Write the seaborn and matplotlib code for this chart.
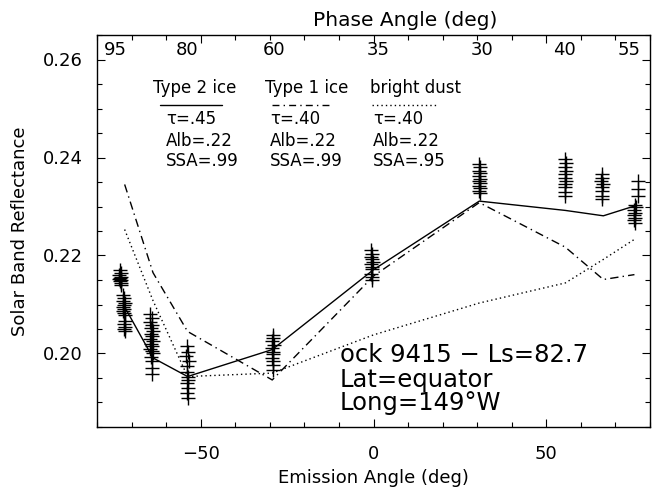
import matplotlib
matplotlib.use("Agg")
import matplotlib.pyplot as plt
import matplotlib.transforms as mtransforms
from matplotlib.ticker import MultipleLocator
import seaborn as sns
import pandas as pd

# ---------------- data ----------------
# model curves (emission angle, reflectance)
model_x = [-72.0, -63.8, -53.8, -29.3, 0.0, 30.6, 55.5, 66.5, 75.5]
type2_ice = [0.2095, 0.1991, 0.1953, 0.2008, 0.2171, 0.2311, 0.2292, 0.2281, 0.2301]
type1_ice = [0.2345, 0.2165, 0.2045, 0.1946, 0.2158, 0.2308, 0.2217, 0.2151, 0.2161]
bright_dust = [0.2253, 0.2108, 0.1953, 0.1960, 0.2038, 0.2103, 0.2144, 0.2192, 0.2233]

# observations
obs_x = ([-73.4, -73.2, -73.6, -73.0, -73.3, -73.5, -73.1, -73.4, -73.2, -73.0]
         + [-72.4, -72.2, -72.6, -72.0, -72.3, -72.5, -72.1, -72.4, -72.2, -71.9, -72.0, -72.3, -71.8, -72.1, -72.0]
         + [-64.6, -64.2, -64.8, -64.0, -64.4, -63.8, -64.5, -64.1, -64.7, -63.9, -64.3, -64.0, -64.6, -64.2, -63.8, -64.4, -64.1, -64.0, -64.2]
         + [-54.0, -53.7, -54.2, -53.5, -53.9, -54.1, -53.6, -53.8, -54.0, -53.7, -53.9, -53.8]
         + [-29.2, -29.0, -29.4, -28.9, -29.3, -29.1, -29.0, -29.3, -29.2, -29.1, -29.0]
         + [-0.6, -0.3, -0.8, -0.4, -0.2, -0.7, -0.5, -0.3, -0.6, -0.4, -0.5]
         + [30.5, 30.8, 30.6, 30.9, 30.4, 30.7, 30.6, 30.8, 30.5, 30.7, 30.6, 30.8]
         + [55.4, 55.6, 55.3, 55.7, 55.5, 55.4, 55.6, 55.5, 55.3, 55.5, 55.5]
         + [66.0, 66.2, 65.9, 66.3, 66.1, 66.0, 66.2, 66.1]
         + [76.6, 76.5, 76.4, 75.6, 75.9, 75.4, 75.8, 75.5, 75.7, 75.3, 75.6])
obs_y = ([0.2170, 0.2165, 0.2160, 0.2157, 0.2155, 0.2152, 0.2150, 0.2147, 0.2143, 0.2140]
         + [0.2120, 0.2113, 0.2108, 0.2103, 0.2098, 0.2094, 0.2090, 0.2086, 0.2082, 0.2078, 0.2066, 0.2060, 0.2055, 0.2050, 0.2046]
         + [0.2080, 0.2072, 0.2065, 0.2058, 0.2052, 0.2046, 0.2040, 0.2035, 0.2030, 0.2025, 0.2020, 0.2015, 0.2010, 0.2005, 0.2000, 0.1993, 0.1985, 0.1970, 0.1958]
         + [0.2015, 0.2004, 0.1994, 0.1984, 0.1974, 0.1963, 0.1953, 0.1946, 0.1940, 0.1929, 0.1919, 0.1909]
         + [0.2038, 0.2032, 0.2025, 0.2018, 0.2011, 0.2004, 0.1998, 0.1991, 0.1984, 0.1977, 0.1967]
         + [0.2212, 0.2204, 0.2197, 0.2192, 0.2187, 0.2182, 0.2177, 0.2172, 0.2163, 0.2157, 0.2151]
         + [0.2386, 0.2380, 0.2373, 0.2368, 0.2362, 0.2357, 0.2352, 0.2347, 0.2342, 0.2337, 0.2332, 0.2327]
         + [0.2397, 0.2388, 0.2380, 0.2373, 0.2366, 0.2359, 0.2352, 0.2345, 0.2339, 0.2330, 0.2322]
         + [0.2366, 0.2359, 0.2352, 0.2345, 0.2339, 0.2332, 0.2322, 0.2315]
         + [0.2352, 0.2335, 0.2322, 0.2304, 0.2298, 0.2293, 0.2287, 0.2282, 0.2277, 0.2272, 0.2266])

phase_pos = [-74.8, -54.0, -28.7, 1.4, 31.5, 55.1, 73.9]
phase_labels = ["95", "80", "60", "35", "30", "40", "55"]

legend_names = ["Type 2 ice", "Type 1 ice", "bright dust"]
legend_tau = ["\u03c4=.45", "\u03c4=.40", "\u03c4=.40"]
legend_alb = ["Alb=.22", "Alb=.22", "Alb=.22"]
legend_ssa = ["SSA=.99", "SSA=.99", "SSA=.95"]

# ---------------- plot ----------------
sns.set_style("ticks")
plt.rcParams["font.family"] = ["DejaVu Sans"]
plt.rcParams["text.color"] = "black"
plt.rcParams["axes.labelcolor"] = "black"
plt.rcParams["xtick.color"] = "black"
plt.rcParams["ytick.color"] = "black"

fig = plt.figure(figsize=(6.55, 4.87), dpi=100)
ax = fig.add_axes([97 / 655, 60 / 487, 553 / 655, 392 / 487])

df_model = pd.DataFrame({"x": model_x, "t2": type2_ice, "t1": type1_ice, "bd": bright_dust})
df_obs = pd.DataFrame({"x": obs_x, "y": obs_y})

styles = {"t2": "-", "t1": (0, (6, 3, 1, 3)), "bd": (0, (1, 2.2))}
for key in ["t2", "t1", "bd"]:
    sns.lineplot(data=df_model, x="x", y=key, ax=ax, color="black", lw=1.0,
                 linestyle=styles[key], sort=False, estimator=None)

sns.scatterplot(data=df_obs, x="x", y="y", ax=ax, marker="+", s=115,
                color="black", linewidth=1.0, zorder=3)

ax.set_xlim(-80, 80)
ax.set_ylim(0.185, 0.265)
ax.xaxis.set_major_locator(MultipleLocator(50))
ax.xaxis.set_minor_locator(MultipleLocator(10))
ax.yaxis.set_major_locator(MultipleLocator(0.02))
ax.yaxis.set_minor_locator(MultipleLocator(0.005))
ax.xaxis.set_major_formatter(plt.FuncFormatter(lambda v, p: f"{v:.0f}".replace("-", "\u2212")))
ax.yaxis.set_major_formatter(plt.FuncFormatter(lambda v, p: f"{v:.2f}"))
ax.tick_params(axis="both", which="both", direction="in", top=True, right=True,
               color="black", width=0.8)
ax.tick_params(axis="both", which="major", length=6, labelsize=13, labelcolor="black")
ax.tick_params(axis="both", which="minor", length=3.5)
ax.tick_params(axis="x", which="major", pad=13)
ax.tick_params(axis="y", which="major", pad=10)
for sp in ax.spines.values():
    sp.set_visible(True)
    sp.set_color("black")
    sp.set_linewidth(1.0)

ax.set_xlabel("Emission Angle (deg)", fontsize=13, labelpad=4, color="black")
ax.set_ylabel("Solar Band Reflectance", fontsize=13, labelpad=10, color="black")

# phase angle labels (inside top of plot)
trans = mtransforms.blended_transform_factory(ax.transData, ax.transAxes)
for pos, lab in zip(phase_pos, phase_labels):
    ax.text(pos, 0.963, lab, transform=trans, ha="center", va="center", fontsize=13,
            color="black")
fig.text(405 / 655, 1 - 20 / 487, "Phase Angle (deg)", ha="center", va="center",
         fontsize=14.5, color="black")

# legend block
name_x = [0.101, 0.304, 0.493]
sub_x = [0.125, 0.313, 0.499]
line_x = [(0.114, 0.226), (0.316, 0.425), (0.497, 0.615)]
line_st = ["-", (0, (5, 3, 1, 3)), (0, (1, 2.2))]
for i in range(3):
    ax.text(name_x[i], 0.865, legend_names[i], transform=ax.transAxes, fontsize=12,
            ha="left", va="center", color="black")
    ax.plot(line_x[i], [0.821, 0.821], transform=ax.transAxes, color="black",
            lw=1.0, linestyle=line_st[i])
    ax.text(sub_x[i], 0.786, legend_tau[i], transform=ax.transAxes, fontsize=12,
            ha="left", va="center", color="black")
    ax.text(sub_x[i], 0.730, legend_alb[i], transform=ax.transAxes, fontsize=12,
            ha="left", va="center", color="black")
    ax.text(sub_x[i], 0.679, legend_ssa[i], transform=ax.transAxes, fontsize=12,
            ha="left", va="center", color="black")

ax.text(0.439, 0.184, "ock 9415 \u2212 Ls=82.7", transform=ax.transAxes, fontsize=17.5,
        ha="left", va="center", color="black")
ax.text(0.439, 0.120, "Lat=equator", transform=ax.transAxes, fontsize=17.5,
        ha="left", va="center", color="black")
ax.text(0.439, 0.061, "Long=149\u00b0W", transform=ax.transAxes, fontsize=17.5,
        ha="left", va="center", color="black")

fig.savefig("out.png", dpi=100)
